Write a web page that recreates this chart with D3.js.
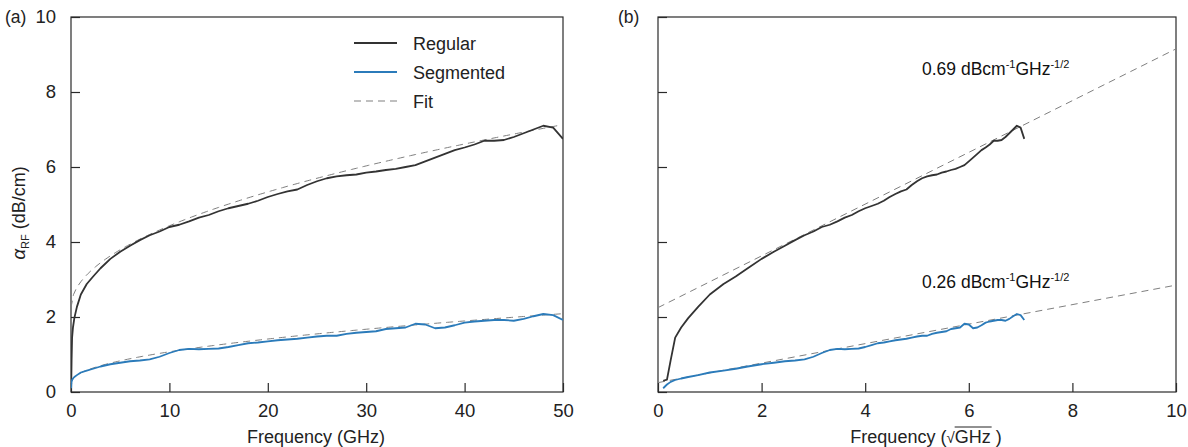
<!DOCTYPE html>
<html>
<head>
<meta charset="utf-8">
<script src="https://cdn.jsdelivr.net/npm/d3@7"></script>
<style>
  body { margin: 0; background: #fff; }
  svg { font-family: "Liberation Sans", Arial, sans-serif; }
</style>
</head>
<body>
<svg id="chart" width="1188" height="447"></svg>
<script>
// measured frequency points (GHz)
var freq = [0.01, 0.03, 0.06, 0.11, 0.2, 0.34, 0.6, 1, 1.6, 2.25, 3, 4, 5, 6, 7, 8, 9,
  10, 11, 12, 13, 14, 15, 16, 17, 18, 19, 20, 21, 22, 23, 24, 25, 26, 27, 28, 29,
  30, 31, 32, 33, 34, 35, 36, 37, 38, 39, 40, 41, 42, 43, 44, 45, 46, 47, 48, 49, 50];

// RF loss, dB/cm
var regular = [0.3, 0.33, 0.85, 1.45, 1.72, 1.97, 2.27, 2.6, 2.88, 3.08, 3.3, 3.55, 3.74, 3.9, 4.05, 4.18, 4.28,
  4.4, 4.46, 4.55, 4.65, 4.72, 4.82, 4.9, 4.96, 5.02, 5.1, 5.2, 5.28, 5.35, 5.4, 5.52, 5.62, 5.7, 5.75, 5.78, 5.8,
  5.85, 5.88, 5.92, 5.95, 6.0, 6.05, 6.15, 6.25, 6.35, 6.45, 6.52, 6.6, 6.7, 6.7, 6.72, 6.8, 6.9, 7.0, 7.1, 7.05, 6.75];

var segmented = [0.1, 0.2, 0.27, 0.32, 0.36, 0.4, 0.45, 0.52, 0.57, 0.62, 0.68, 0.74, 0.78, 0.82, 0.84, 0.87, 0.94,
  1.04, 1.12, 1.15, 1.14, 1.15, 1.16, 1.2, 1.25, 1.3, 1.32, 1.35, 1.38, 1.4, 1.42, 1.45, 1.48, 1.5, 1.5, 1.55, 1.58,
  1.6, 1.62, 1.68, 1.7, 1.72, 1.82, 1.8, 1.7, 1.72, 1.78, 1.85, 1.88, 1.9, 1.92, 1.92, 1.9, 1.95, 2.02, 2.08, 2.05, 1.92];

// fit: alpha = intercept + slope*sqrt(f)
var fitSlope = [0.69, 0.26];
var fitIntercept = [2.25, 0.25];
var fitLabels = ["0.69", "0.26"];

var xTicksA = [0, 10, 20, 30, 40, 50];
var xTicksB = [0, 2, 4, 6, 8, 10];
var yTicks = [0, 2, 4, 6, 8, 10];

var colRegular = "#333333", colSeg = "#2b7bba", colFit = "#808080", colAxis = "#2a2a2a";

var svg = d3.select("#chart");

var y = d3.scaleLinear().domain([0, 10]).range([392, 17]);
var xa = d3.scaleLinear().domain([0, 50]).range([71, 563]);
var xb = d3.scaleLinear().domain([0, 10]).range([658, 1176]);

/*
draw one panel frame with inward ticks
*/
function frame(x, xt, showY){
	var g = svg.append("g");
	var x0 = x.range()[0], x1 = x.range()[1];
	g.append("rect").attr("x", x0).attr("y", y(10)).attr("width", x1 - x0).attr("height", y(0) - y(10))
		.attr("fill", "none").attr("stroke", colAxis).attr("stroke-width", 1.2);

	var gx = g.append("g").attr("transform", "translate(0," + y(0) + ")")
		.call(d3.axisBottom(x).tickValues(xt).tickSize(-9).tickPadding(12).tickFormat(d3.format("d")));
	gx.select(".domain").remove();
	gx.selectAll("line").attr("stroke", colAxis).attr("stroke-width", 1.2);
	gx.selectAll("text").attr("font-size", 18.5).attr("fill", "#222").attr("font-family", "Liberation Sans, Arial, sans-serif");

	var gy = g.append("g").attr("transform", "translate(" + x0 + ",0)")
		.call(d3.axisLeft(y).tickValues(yTicks).tickSize(-9).tickPadding(15)
			.tickFormat(showY ? d3.format("d") : function(){ return ""; }));
	gy.select(".domain").remove();
	gy.selectAll("line").attr("stroke", colAxis).attr("stroke-width", 1.2);
	gy.selectAll("text").attr("font-size", 18.5).attr("fill", "#222").attr("font-family", "Liberation Sans, Arial, sans-serif");
	return g;
}

frame(xa, xTicksA, true);
frame(xb, xTicksB, false);

function clipFor(id, x){
	svg.append("clipPath").attr("id", id).append("rect")
		.attr("x", x.range()[0]).attr("y", y(10))
		.attr("width", x.range()[1] - x.range()[0]).attr("height", y(0) - y(10));
}
clipFor("clipA", xa);
clipFor("clipB", xb);

// fit curves
var fineF = d3.range(0, 50.01, 0.25);
var lineA = d3.line().x(function(d){ return xa(d[0]); }).y(function(d){ return y(d[1]); });
var lineB = d3.line().x(function(d){ return xb(d[0]); }).y(function(d){ return y(d[1]); });

for (var k = 0; k < 2; k++){
	var ptsA = fineF.map(function(f){ return [f, fitIntercept[k] + fitSlope[k]*Math.sqrt(f)]; });
	svg.append("path").attr("d", lineA(ptsA)).attr("fill", "none").attr("stroke", colFit)
		.attr("stroke-width", 1).attr("stroke-dasharray", "7,5").attr("clip-path", "url(#clipA)");
	var ptsB = [[0, fitIntercept[k]], [10, fitIntercept[k] + fitSlope[k]*10]];
	svg.append("path").attr("d", lineB(ptsB)).attr("fill", "none").attr("stroke", colFit)
		.attr("stroke-width", 1).attr("stroke-dasharray", "7,5").attr("clip-path", "url(#clipB)");
}

// data lines
function drawSeries(vals, col){
	var pa = freq.map(function(f, i){ return [f, vals[i]]; });
	var pb = freq.map(function(f, i){ return [Math.sqrt(f), vals[i]]; });
	svg.append("path").attr("d", lineA(pa)).attr("fill", "none").attr("stroke", col)
		.attr("stroke-width", 1.8).attr("stroke-linejoin", "round").attr("clip-path", "url(#clipA)");
	svg.append("path").attr("d", lineB(pb)).attr("fill", "none").attr("stroke", col)
		.attr("stroke-width", 1.8).attr("stroke-linejoin", "round").attr("clip-path", "url(#clipB)");
}
drawSeries(regular, colRegular);
drawSeries(segmented, colSeg);

// legend
var legend = [["Regular", colRegular, null], ["Segmented", colSeg, null], ["Fit", colFit, "7,5"]];
legend.forEach(function(l, i){
	var ly = 43 + i*29;
	svg.append("line").attr("x1", 354).attr("x2", 397).attr("y1", ly).attr("y2", ly)
		.attr("stroke", l[1]).attr("stroke-width", l[2] ? 1.2 : 1.8).attr("stroke-dasharray", l[2]);
	svg.append("text").attr("x", 413).attr("y", ly + 6.5).attr("font-size", 18).attr("fill", "#222").text(l[0]);
});

// slope annotations
var annY = [75, 288];
fitLabels.forEach(function(s, i){
	var t = svg.append("text").attr("x", 922).attr("y", annY[i]).attr("font-size", 17.5).attr("fill", "#111");
	t.append("tspan").text(s + " dBcm");
	t.append("tspan").attr("font-size", 11).attr("dy", -7).text("-1");
	t.append("tspan").attr("dy", 7).text("GHz");
	t.append("tspan").attr("font-size", 11).attr("dy", -7).text("-1/2");
});

// panel labels
svg.append("text").attr("x", 5).attr("y", 23).attr("font-size", 17.5).attr("fill", "#222").text("(a)");
svg.append("text").attr("x", 618).attr("y", 23).attr("font-size", 17.5).attr("fill", "#222").text("(b)");

// axis titles
svg.append("text").attr("x", 316).attr("y", 443).attr("text-anchor", "middle").attr("font-size", 18)
	.attr("fill", "#222").text("Frequency (GHz)");

var tb = svg.append("text").attr("x", 926).attr("y", 443).attr("text-anchor", "middle").attr("font-size", 18).attr("fill", "#222");
tb.append("tspan").text("Frequency (");
tb.append("tspan").attr("font-size", 15).text("\u221A");
tb.append("tspan").text("GHz");
tb.append("tspan").text(" )");
// overline for the root
var start = tb.node().getStartPositionOfChar(12), end = tb.node().getEndPositionOfChar(14);
svg.append("line").attr("x1", start.x).attr("x2", end.x + 1).attr("y1", 427).attr("y2", 427)
	.attr("stroke", "#222").attr("stroke-width", 1);

var yt = svg.append("text").attr("transform", "translate(25,213) rotate(-90)")
	.attr("text-anchor", "middle").attr("font-size", 18).attr("fill", "#222");
yt.append("tspan").attr("font-style", "italic").attr("font-size", 19).text("\u03B1");
yt.append("tspan").attr("font-size", 11).attr("dy", 4).text("RF");
yt.append("tspan").attr("dy", -4).text(" (dB/cm)");
</script>
</body>
</html>
